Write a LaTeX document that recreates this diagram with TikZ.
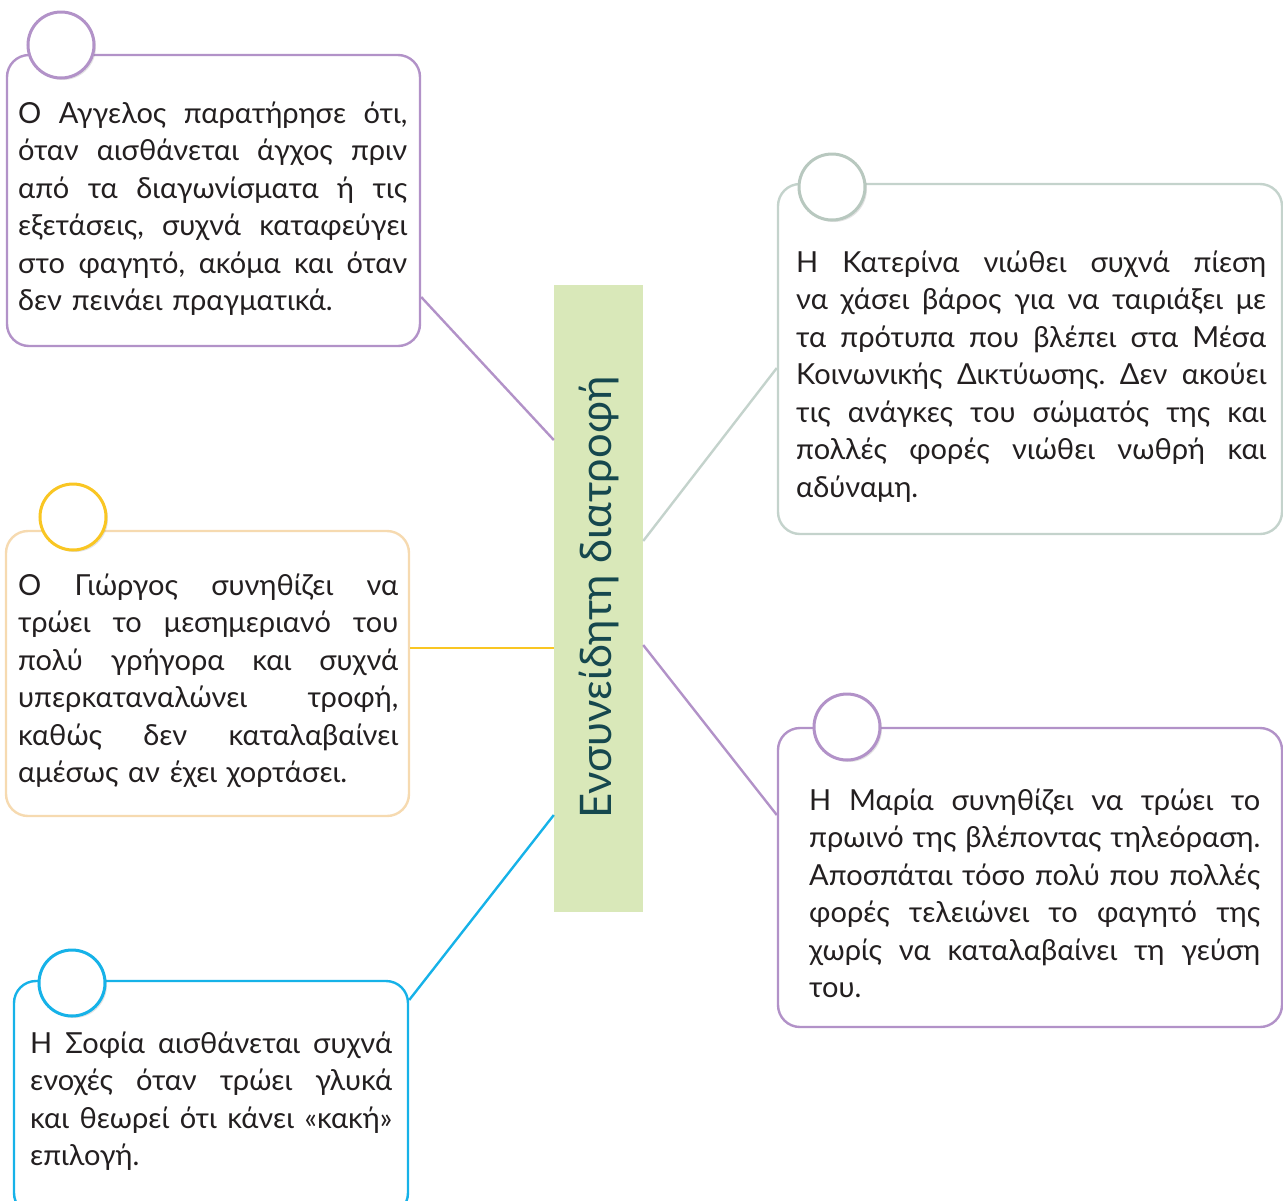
\documentclass[tikz,border=0pt]{standalone}
\usepackage{fontspec}
\setmainfont{Lato}
\usetikzlibrary{shadows}
\definecolor{purp}{RGB}{178,146,200}
\definecolor{peach}{RGB}{246,218,176}
\definecolor{yel}{RGB}{249,198,35}
\definecolor{cyanb}{RGB}{22,178,232}
\definecolor{sage}{RGB}{196,211,204}
\definecolor{sagec}{RGB}{184,200,191}
\definecolor{centfill}{RGB}{217,232,185}
\definecolor{centtext}{RGB}{22,72,78}
\definecolor{txt}{RGB}{35,31,32}
\frenchspacing
\newcommand\jl[1]{\leavevmode\hbox to \hsize{\spaceskip=0pt\xspaceskip=0pt #1}}
\tikzset{
  card/.style={draw=#1, line width=2.4pt, rounded corners=22pt, fill=white, inner sep=0pt},
  badge/.style={circle, draw=#1, line width=3pt, fill=white, minimum size=66pt, inner sep=0pt,
     drop shadow={opacity=0.22, shadow xshift=2pt, shadow yshift=-2pt}},
  para/.style={anchor=base west, inner sep=0pt, align=left, text=txt,
     font=\fontsize{29}{37.5}\selectfont\frenchspacing},
  link/.style={draw=#1, line width=2.4pt},
}
\begin{document}
\begin{tikzpicture}[x=1pt,y=-1pt]
\useasboundingbox (0,0) rectangle (1283,1200);
% central
\node[fill=centfill, minimum width=89pt, minimum height=627pt, inner sep=0pt] (center) at (598.5,598.5) {};
\node[rotate=90, text=centtext, font=\fontsize{43.5}{50}\selectfont, inner sep=0pt] (ctitle) at (599,597.5) {Ενσυνείδητη διατροφή};
% cards
\node[card=purp, minimum width=413pt, minimum height=291pt] (b1) at (213.5,200.5) {};
\node[card=peach, minimum width=403pt, minimum height=285pt] (b2) at (207.5,673.5) {};
\node[card=cyanb, minimum width=394pt, minimum height=234pt] (b3) at (211,1098) {};
\node[card=sage, minimum width=504pt, minimum height=350pt] (b4) at (1030,359) {};
\node[card=purp, minimum width=504pt, minimum height=299pt] (b5) at (1030,877.5) {};
% badges
\node[badge=purp] (c1) at (61,45) {};
\node[badge=yel] (c2) at (73,517) {};
\node[badge=cyanb] (c3) at (72,983) {};
\node[badge=sagec] (c4) at (832,187) {};
\node[badge=purp] (c5) at (847,727) {};
% texts
\node[para, text width=389pt] (t1) at (18,123) {%
\jl{Ο Αγγελος παρατήρησε ότι,}\\
\jl{όταν αισθάνεται άγχος πριν}\\
\jl{από τα διαγωνίσματα ή τις}\\
\jl{εξετάσεις, συχνά καταφεύγει}\\
\jl{στο φαγητό, ακόμα και όταν}\\
δεν πεινάει πραγματικά.};
\node[para, text width=380pt] (t2) at (18,595) {%
\jl{Ο Γιώργος συνηθίζει να}\\
\jl{τρώει το μεσημεριανό του}\\
\jl{πολύ γρήγορα και συχνά}\\
\jl{υπερκαταναλώνει τροφή,}\\
\jl{καθώς δεν καταλαβαίνει}\\
αμέσως αν έχει χορτάσει.};
\node[para, text width=362pt] (t3) at (30,1053) {%
\jl{Η Σοφία αισθάνεται συχνά}\\
\jl{ενοχές όταν τρώει γλυκά}\\
\jl{και θεωρεί ότι κάνει «κακή»}\\
επιλογή.};
\node[para, text width=470pt] (t4) at (796,272) {%
\jl{Η Κατερίνα νιώθει συχνά πίεση}\\
\jl{να χάσει βάρος για να ταιριάξει με}\\
\jl{τα πρότυπα που βλέπει στα Μέσα}\\
\jl{Κοινωνικής Δικτύωσης. Δεν ακούει}\\
\jl{τις ανάγκες του σώματός της και}\\
\jl{πολλές φορές νιώθει νωθρή και}\\
αδύναμη.};
\node[para, text width=451pt] (t5) at (809,810) {%
\jl{Η Μαρία συνηθίζει να τρώει το}\\
\jl{πρωινό της βλέποντας τηλεόραση.}\\
\jl{Αποσπάται τόσο πολύ που πολλές}\\
\jl{φορές τελειώνει το φαγητό της}\\
\jl{χωρίς να καταλαβαίνει τη γεύση}\\
του.};
% links
\draw[link=purp] ([yshift=-96.5pt]b1.east) -- ([yshift=158.5pt]center.west);
\draw[link=yel] ([yshift=25.5pt]b2.east) -- ([yshift=-49.5pt]center.west);
\draw[link=cyanb] ([yshift=98pt]b3.east) -- ([yshift=-216.5pt]center.west);
\draw[link=sage] ([yshift=-9pt]b4.west) -- ([yshift=57.5pt]center.east);
\draw[link=purp] ([yshift=62.5pt]b5.west) -- ([yshift=-46.5pt]center.east);
\end{tikzpicture}
\end{document}
